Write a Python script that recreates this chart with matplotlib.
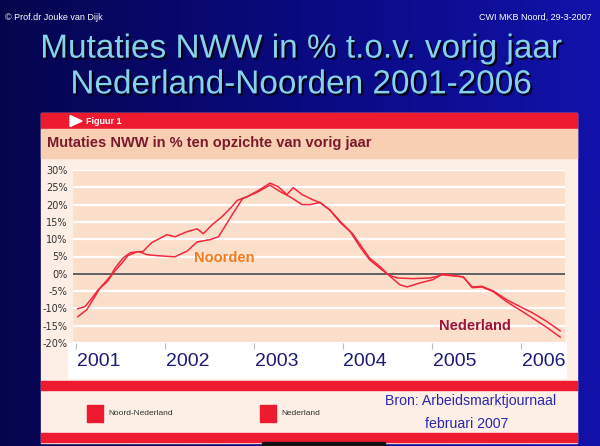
import matplotlib
matplotlib.use('Agg')
import matplotlib.pyplot as plt
import matplotlib.patches as mpatches
import matplotlib.patheffects as pe
from matplotlib.colors import LinearSegmentedColormap
import numpy as np

# --- data (year as decimal, % change) ---
years_nn = [2001.02, 2001.12, 2001.19, 2001.27, 2001.38, 2001.44, 2001.53, 2001.61,
            2001.69, 2001.74, 2001.80, 2001.94, 2002.11, 2002.25, 2002.36, 2002.51,
            2002.60, 2002.70, 2002.79, 2002.87, 2003.03, 2003.15, 2003.18, 2003.29,
            2003.40, 2003.54, 2003.63, 2003.74, 2003.85, 2003.97, 2004.11, 2004.19,
            2004.30, 2004.42, 2004.51, 2004.64, 2004.72, 2004.87, 2005.01, 2005.12,
            2005.35, 2005.45, 2005.56, 2005.69, 2005.84, 2005.99, 2006.13, 2006.29,
            2006.44]
vals_nn = [-12.4, -10.4, -7.5, -4.1, -0.9, 1.7, 4.6, 6.1,
           6.4, 6.1, 5.5, 5.2, 4.9, 6.6, 9.2, 9.9,
           10.7, 14.8, 18.5, 21.7, 23.5, 25.2, 25.6, 23.8,
           22.3, 20.0, 20.0, 20.6, 18.5, 15.1, 11.5, 8.5,
           4.5, 2.0, -0.3, -3.2, -3.8, -2.6, -1.7, 0.0,
           -0.9, -4.0, -3.8, -5.2, -8.1, -10.5, -12.8, -15.5,
           -18.3]

years_nl = [2001.02, 2001.10, 2001.18, 2001.25, 2001.35, 2001.42, 2001.52, 2001.58,
            2001.69, 2001.75, 2001.85, 2002.02, 2002.11, 2002.25, 2002.36, 2002.43,
            2002.53, 2002.64, 2002.75, 2002.81, 2002.92, 2003.03, 2003.18, 2003.27,
            2003.37, 2003.44, 2003.54, 2003.66, 2003.74, 2003.85, 2003.97, 2004.08,
            2004.19, 2004.30, 2004.42, 2004.51, 2004.61, 2004.79, 2004.98, 2005.12,
            2005.35, 2005.45, 2005.56, 2005.69, 2005.84, 2005.99, 2006.13, 2006.29,
            2006.44]
vals_nl = [-10.1, -9.5, -7.0, -4.6, -2.3, 0.3, 3.2, 5.2,
           6.4, 6.4, 9.0, 11.3, 10.7, 12.2, 13.0, 11.6,
           14.2, 16.5, 19.4, 21.2, 22.3, 23.8, 26.2, 25.2,
           22.9, 24.9, 22.9, 21.4, 20.6, 18.5, 14.8, 12.2,
           7.8, 4.0, 1.5, -0.3, -1.2, -1.4, -1.2, -0.3,
           -0.9, -3.8, -3.6, -5.0, -7.5, -9.5, -11.3, -13.8,
           -16.5]

year_labels = ['2001', '2002', '2003', '2004', '2005', '2006']
year_starts = [2001, 2002, 2003, 2004, 2005, 2006]
y_ticks = [-20, -15, -10, -5, 0, 5, 10, 15, 20, 25, 30]

red = '#ee1a30'
line_red = '#f2283c'

fig = plt.figure(figsize=(6, 4.46), dpi=100)

# slide background, in pixel units
bg = fig.add_axes([0, 0, 1, 1])
bg.set_xlim(0, 600)
bg.set_ylim(446, 0)
bg.axis('off')
cmap = LinearSegmentedColormap.from_list('slide', ['#05054e', '#0a0a80', '#1212aa'])
grad = np.linspace(0, 1, 256).reshape(1, -1)
bg.imshow(grad, cmap=cmap, aspect='auto', extent=(0, 600, 446, 0), zorder=0)

bg.text(5, 17, '\u00a9 Prof.dr Jouke van Dijk', color='white', fontsize=6.5,
        family='Liberation Sans', va='center')
bg.text(592, 17, 'CWI MKB Noord, 29-3-2007', color='white', fontsize=6.5,
        family='Liberation Sans', va='center', ha='right')

# title with a dark drop shadow
shadow = [pe.withSimplePatchShadow(offset=(1.5, -1.5), shadow_rgbFace='#000018', alpha=1.0)]
bg.text(301, 67, 'Mutaties NWW in % t.o.v. vorig jaar\nNederland-Noorden 2001-2006',
        color='#86d2ea', fontsize=24, family='Liberation Sans', ha='center',
        va='center', linespacing=1.2, path_effects=shadow, zorder=5)

# chart panel
bg.add_patch(mpatches.Rectangle((41, 113), 536, 330, color='#fdeee6', zorder=1))
bg.add_patch(mpatches.Rectangle((41, 113), 536, 16, color=red, zorder=2))
bg.add_patch(mpatches.Polygon([(70, 115.5), (70, 126.5), (82, 121)], color='white', zorder=3))
bg.text(86, 121, 'Figuur 1', color='white', fontsize=6.5, fontweight='bold',
        family='Liberation Sans', va='center', zorder=3)
bg.add_patch(mpatches.Rectangle((41, 129), 536, 29, color='#f9cfb3', zorder=2))
bg.text(47, 143, 'Mutaties NWW in % ten opzichte van vorig jaar', color='#7a1a2c',
        fontsize=10.5, fontweight='bold', family='Liberation Sans', va='center', zorder=3)
bg.add_patch(mpatches.Rectangle((68, 343), 498, 35, color='white', zorder=2))
bg.add_patch(mpatches.Rectangle((41, 381), 536, 9, color=red, zorder=2))
bg.add_patch(mpatches.Rectangle((41, 433), 536, 9, color=red, zorder=2))
bg.add_patch(mpatches.Rectangle((262, 442), 123, 4, color='#111111', zorder=2))

# legend
bg.add_patch(mpatches.Rectangle((87, 405), 16, 17, color=red, zorder=3))
bg.text(108, 413.5, 'Noord-Nederland', color='#333333', fontsize=6,
        family='Liberation Sans', va='center', zorder=3)
bg.add_patch(mpatches.Rectangle((260, 405), 16, 17, color=red, zorder=3))
bg.text(281, 413.5, 'Nederland', color='#333333', fontsize=6,
        family='Liberation Sans', va='center', zorder=3)
bg.text(471, 401, 'Bron: Arbeidsmarktjournaal', color='#2828b0', fontsize=10.2,
        family='Liberation Sans', ha='center', va='center', zorder=3)
bg.text(467, 424, 'februari 2007', color='#2828b0', fontsize=10.2,
        family='Liberation Sans', ha='center', va='center', zorder=3)

# the plot itself
ax = fig.add_axes([73 / 600, 1 - 343 / 446, (565 - 73) / 600, (343 - 170) / 446])
ax.set_facecolor('#fcdfca')
ax.set_xlim(2000.966, 2006.494)
ax.set_ylim(-20, 30)
for s in ax.spines.values():
    s.set_visible(False)

ax.set_yticks(y_ticks)
ax.set_yticklabels([f'{v}%' for v in y_ticks])
ax.yaxis.grid(True, color='white', lw=1.6)
ax.set_axisbelow(True)
ax.tick_params(axis='y', length=0, labelsize=7, pad=4, labelcolor='#333333')

ax.set_xticks(year_starts)
ax.set_xticklabels([])
ax.set_xticks([y + 0.25 for y in year_starts], minor=True)
ax.set_xticklabels(year_labels, minor=True, family='Liberation Sans')
ax.tick_params(axis='x', which='major', length=4, color='#bbbbbb', direction='out')
ax.tick_params(axis='x', which='minor', length=0, labelsize=14, pad=7,
               labelcolor='#1c1c78')

ax.axhline(0, color='#444444', lw=1.2, zorder=2)
ax.plot(years_nn, vals_nn, color=line_red, lw=1.1, zorder=3)
ax.plot(years_nl, vals_nl, color=line_red, lw=1.1, zorder=3)

ax.text(2002.66, 4.6, 'Noorden', color='#f47a20', fontsize=10.5, fontweight='bold',
        family='Liberation Sans', ha='center', va='center')
ax.text(2005.48, -15.1, 'Nederland', color='#a0143a', fontsize=10.5, fontweight='bold',
        family='Liberation Sans', ha='center', va='center')

fig.savefig('out.png', dpi=100)
